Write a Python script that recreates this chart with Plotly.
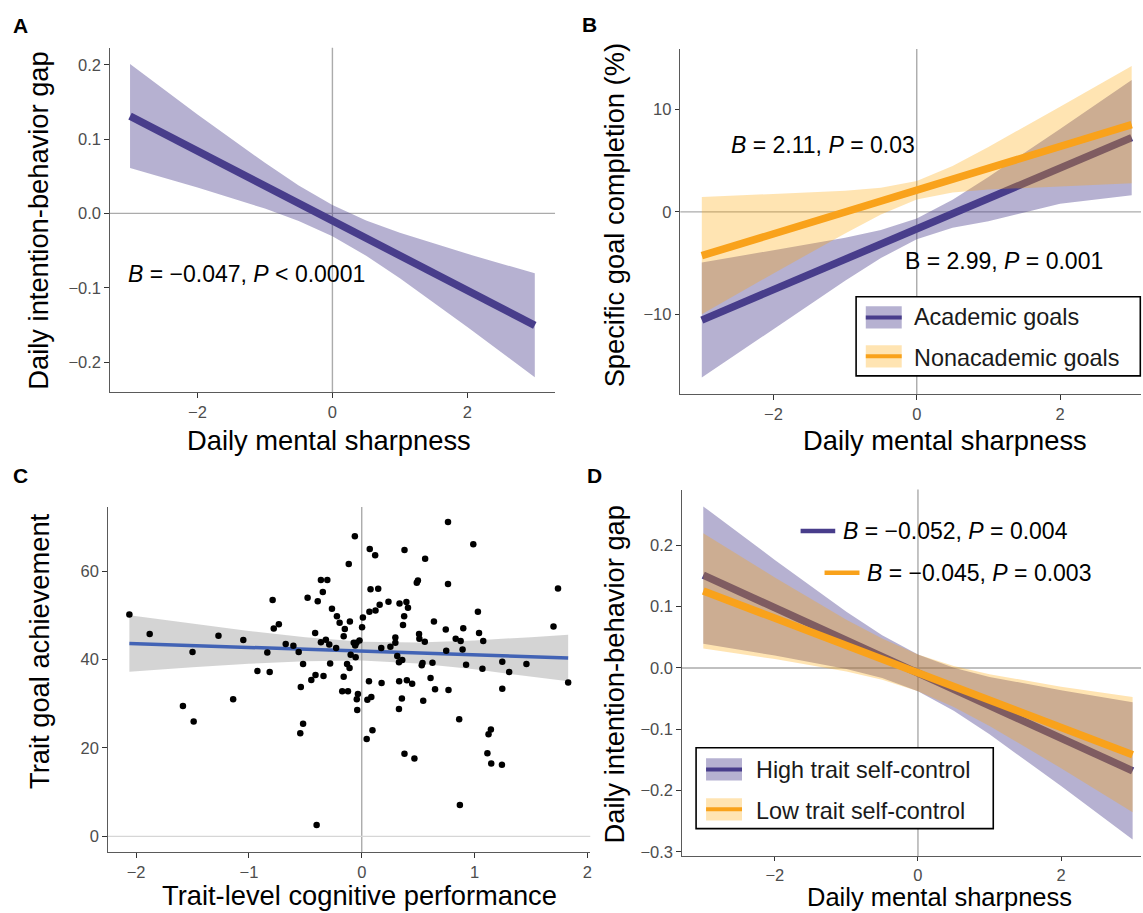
import plotly.graph_objects as go

W, H = 1143, 913
FONT = "Liberation Sans, Arial, Helvetica, sans-serif"
PURPLE = "#483D8B"
PURPLE_BAND = "rgba(72,61,139,0.4)"
ORANGE = "#F9A21B"
ORANGE_BAND = "rgba(255,165,0,0.3)"

# ---------------- Panel A ----------------
a_x = [-3, -2, -1, -0.5, 0, 0.5, 1, 2, 3]
a_fit = [0.1309, 0.0840, 0.0371, 0.0137, -0.0098, -0.0333, -0.0567, -0.1036, -0.1505]
a_hi = [0.201, 0.133, 0.068, 0.0375, 0.0112, -0.0095, -0.0261, -0.0544, -0.0805]
a_lo = [0.061, 0.035, 0.0065, -0.0101, -0.0308, -0.0571, -0.0873, -0.1528, -0.2205]

# ---------------- Panel B ----------------
b_x = [-3, -2, -1, -0.5, 0, 0.5, 1, 2, 3]
b_acad_fit = [-10.53, -7.57, -4.61, -3.13, -1.65, -0.17, 1.31, 4.27, 7.23]
b_acad_hi = [-4.93, -3.76, -2.52, -1.77, -0.65, 1.19, 3.40, 8.08, 12.83]
b_acad_lo = [-16.13, -11.38, -6.70, -4.49, -2.65, -1.53, -0.90, 0.80, 1.63]
b_non_fit = [-4.26, -2.13, -0.01, 1.06, 2.12, 3.18, 4.25, 6.37, 8.50]
b_non_hi = [1.44, 1.73, 2.07, 2.36, 3.02, 4.48, 6.33, 10.23, 14.20]
b_non_lo = [-9.96, -5.99, -2.09, -0.24, 1.22, 1.88, 2.17, 2.51, 2.80]

# ---------------- Panel C ----------------
c_x = [-2.06, -1.88, -1.50, -1.585, -1.49, -1.27, -1.14, -1.05, -0.925, -0.816,
       -0.837, -0.79, -0.78, -0.735, -0.674, -0.606, -0.559, -0.54, -0.52, -0.52,
       -0.545, -0.48, -0.447, -0.413, -0.41, -0.40, -0.39, -0.362, -0.345, -0.362,
       -0.339, -0.318, -0.305, -0.288, -0.28, -0.264, -0.227, -0.22, -0.196, -0.173,
       -0.16, -0.16, -0.15, -0.13, -0.122, -0.115, -0.108, -0.105, -0.098, -0.071,
       -0.061, -0.054, -0.058, -0.047, -0.044, -0.04, -0.034, -0.02, 0.003, 0.01,
       0.044, 0.05, 0.064, 0.071, 0.068, 0.078, 0.085, 0.095, 0.119, 0.122,
       0.146, 0.159, 0.173, 0.176, 0.237, 0.254, 0.298, 0.298, 0.315, 0.33,
       0.33, 0.332, 0.335, 0.356, 0.359, 0.366, 0.376, 0.379, 0.379, 0.396,
       0.40, 0.41, 0.447, 0.467, 0.488, 0.498, 0.508, 0.511, 0.532, 0.539,
       0.545, 0.559, 0.562, 0.61, 0.627, 0.64, 0.65, 0.745, 0.749, 0.765,
       0.765, 0.769, 0.833, 0.864, 0.87, 0.877, 0.894, 0.90, 0.925, 0.989,
       1.03, 1.04, 1.07, 1.077, 1.114, 1.124, 1.145, 1.148, 1.243, 1.246,
       1.246, 1.307, 1.46, 1.70, 1.74, 1.83]
c_y = [50.2, 45.8, 41.7, 29.5, 26.0, 45.4, 31.0, 44.4, 37.4, 37.2,
       41.6, 53.5, 47.0, 48.0, 43.5, 43.1, 41.7, 33.8, 39.0, 25.5,
       23.3, 54.0, 35.4, 46.0, 36.5, 2.55, 53.2, 58.0, 55.3, 43.9,
       36.3, 44.5, 58.0, 43.4, 39.1, 51.5, 42.6, 49.8, 48.3, 32.8,
       36.1, 45.3, 46.9, 39.0, 32.8, 61.6, 38.1, 48.6, 41.1, 43.8,
       67.9, 40.5, 43.2, 43.8, 31.0, 28.6, 32.2, 44.3, 47.3, 49.5,
       22.0, 30.9, 35.1, 65.0, 50.8, 55.9, 31.5, 24.0, 63.6, 51.1,
       56.0, 52.4, 42.6, 34.7, 53.1, 42.9, 45.0, 43.8, 40.8, 28.8,
       39.4, 35.1, 52.7, 31.2, 39.9, 47.8, 49.8, 64.8, 18.7, 53.0,
       35.3, 51.7, 34.5, 17.6, 57.4, 57.9, 45.8, 44.7, 38.7, 39.2,
       30.7, 44.0, 62.8, 35.8, 39.3, 48.6, 33.3, 46.8, 42.0, 71.1,
       57.1, 33.1, 44.7, 26.5, 7.1, 44.2, 42.3, 47.1, 38.8, 66.1,
       50.8, 46.0, 37.9, 44.2, 18.8, 23.1, 24.2, 16.5, 16.2, 39.5,
       33.4, 37.2, 39.0, 47.5, 56.1, 34.8]
c_fx = [-2.06, -1.5, -1.0, -0.5, 0.0, 0.5, 1.0, 1.5, 1.83]
c_fit = [43.65, 43.18, 42.75, 42.33, 41.90, 41.48, 41.05, 40.63, 40.34]
c_hi = [50.05, 48.12, 46.47, 45.02, 44.02, 43.86, 44.32, 45.07, 45.61]
c_lo = [37.25, 38.24, 39.03, 39.64, 39.78, 39.10, 37.78, 36.19, 35.07]

# ---------------- Panel D ----------------
d_x = [-3, -2, -1, -0.5, 0, 0.5, 1, 2, 3]
d_high_fit = [0.1515, 0.0983, 0.0451, 0.0185, -0.0081, -0.0347, -0.0613, -0.1145, -0.1677]
d_high_hi = [0.2635, 0.1763, 0.0919, 0.0535, 0.0219, 0.0003, -0.0145, -0.0365, -0.0557]
d_high_lo = [0.0395, 0.0203, -0.0017, -0.0165, -0.0381, -0.0697, -0.1081, -0.1925, -0.2797]
d_low_fit = [0.1256, 0.0811, 0.0366, 0.0144, -0.0079, -0.0302, -0.0524, -0.0969, -0.1414]
d_low_hi = [0.2196, 0.1476, 0.0788, 0.0479, 0.0221, 0.0033, -0.0102, -0.0304, -0.0474]
d_low_lo = [0.0316, 0.0146, -0.0056, -0.0191, -0.0379, -0.0637, -0.0946, -0.1634, -0.2354]


def px(v):
    return v / W


def py(v):
    return 1 - v / H


fig = go.Figure()


def band(xs, lo, hi, color, ax):
    fig.add_trace(go.Scatter(x=list(xs) + list(xs)[::-1], y=list(hi) + list(lo)[::-1],
                             fill="toself", fillcolor=color, line=dict(width=0),
                             mode="lines", hoverinfo="skip", showlegend=False,
                             xaxis="x" + ax, yaxis="y" + ax))


def line(xs, ys, color, width, ax):
    fig.add_trace(go.Scatter(x=xs, y=ys, mode="lines", line=dict(color=color, width=width),
                             showlegend=False, xaxis="x" + ax, yaxis="y" + ax))


# A
band(a_x, a_lo, a_hi, PURPLE_BAND, "")
line(a_x, a_fit, PURPLE, 7.5, "")
# B
band(b_x, b_acad_lo, b_acad_hi, PURPLE_BAND, "2")
line(b_x, b_acad_fit, PURPLE, 7.5, "2")
band(b_x, b_non_lo, b_non_hi, ORANGE_BAND, "2")
line(b_x, b_non_fit, ORANGE, 7.5, "2")
# C
band(c_fx, c_lo, c_hi, "rgba(153,153,153,0.42)", "3")
line(c_fx, c_fit, "#4263B5", 3.5, "3")
fig.add_trace(go.Scatter(x=c_x, y=c_y, mode="markers", marker=dict(color="black", size=6.5),
                         showlegend=False, xaxis="x3", yaxis="y3"))
# D
band(d_x, d_high_lo, d_high_hi, PURPLE_BAND, "4")
line(d_x, d_high_fit, PURPLE, 7.5, "4")
band(d_x, d_low_lo, d_low_hi, ORANGE_BAND, "4")
line(d_x, d_low_fit, ORANGE, 7.5, "4")

axis_common = dict(showline=True, linecolor="#5a5a5a", linewidth=1.1, ticks="outside",
                   tickwidth=1.1, tickcolor="#333333", showgrid=False,
                   zeroline=False, tickfont=dict(family=FONT, size=16.5, color="#4D4D4D"),
                   fixedrange=True)

fig.update_layout(
    width=W, height=H, margin=dict(l=0, r=0, t=0, b=0),
    paper_bgcolor="white", plot_bgcolor="white", showlegend=False,
    font=dict(family=FONT),
    xaxis=dict(domain=[px(110), px(556)], range=[-3.3, 3.3], anchor="y", ticklen=4.5,
               tickvals=[-2, 0, 2], ticktext=["−2", "0", "2"], **axis_common),
    yaxis=dict(domain=[py(394), py(48)], range=[-0.2406, 0.2228], anchor="x", ticklen=4.5,
               tickvals=[-0.2, -0.1, 0, 0.1, 0.2],
               ticktext=["−0.2", "−0.1", "0.0", "0.1", "0.2"], **axis_common),
    xaxis2=dict(domain=[px(681.5), 1.0], range=[-3.3, 3.13], anchor="y2", ticklen=4.5,
                tickvals=[-2, 0, 2], ticktext=["−2", "0", "2"], **axis_common),
    yaxis2=dict(domain=[py(396), py(49.3)], range=[-17.75, 15.85], anchor="x2", ticklen=4.5,
                tickvals=[-10, 0, 10], ticktext=["−10", "0", "10"], **axis_common),
    xaxis3=dict(domain=[px(107.9), px(591.3)], range=[-2.252, 2.026], anchor="y3", ticklen=4.5,
                tickvals=[-2, -1, 0, 1, 2], ticktext=["−2", "−1", "0", "1", "2"], **axis_common),
    yaxis3=dict(domain=[py(856), py(509.3)], range=[-3.6, 74.5], anchor="x3", ticklen=4.5,
                tickvals=[0, 20, 40, 60], ticktext=["0", "20", "40", "60"], **axis_common),
    xaxis4=dict(domain=[px(683), 1.0], range=[-3.3, 3.117], anchor="y4", ticklen=3.5,
                tickvals=[-2, 0, 2], ticktext=["−2", "0", "2"], **axis_common),
    yaxis4=dict(domain=[py(860), py(491.7)], range=[-0.307, 0.291], anchor="x4", ticklen=4.5,
                tickvals=[-0.3, -0.2, -0.1, 0, 0.1, 0.2],
                ticktext=["−0.3", "−0.2", "−0.1", "0.0", "0.1", "0.2"], **axis_common),
)

shapes = []
REF = "#ABABAB"
for ax, hcol in [("", REF), ("2", REF), ("3", "#D6D6D6"), ("4", REF)]:
    shapes.append(dict(type="line", xref="x" + ax, yref="y" + ax + " domain", x0=0, x1=0, y0=0, y1=1,
                       line=dict(color=REF, width=1.4), layer="below"))
    shapes.append(dict(type="line", xref="x" + ax + " domain", yref="y" + ax, x0=0, x1=1, y0=0, y1=0,
                       line=dict(color=hcol, width=1.4), layer="below"))


def rect(x0, y0, x1, y1, fill, linecol=None, lw=0):
    shapes.append(dict(type="rect", xref="paper", yref="paper", x0=px(x0), x1=px(x1),
                       y0=py(y1), y1=py(y0), fillcolor=fill,
                       line=dict(color=linecol if linecol else "rgba(0,0,0,0)", width=lw),
                       layer="above"))


def seg(x0, x1, y, color, w):
    shapes.append(dict(type="line", xref="paper", yref="paper", x0=px(x0), x1=px(x1),
                       y0=py(y), y1=py(y), line=dict(color=color, width=w), layer="above"))


# Legend B
rect(857.6, 298, 1142.3, 377.5, "white", "black", 1.6)
rect(867.3, 307.7, 903.3, 330, PURPLE_BAND)
seg(867.3, 903.3, 318.8, PURPLE, 4)
rect(867.3, 346.7, 903.3, 369, ORANGE_BAND)
seg(867.3, 903.3, 357.8, ORANGE, 4)
# Legend D
rect(697.3, 751, 995, 832.3, "white", "black", 1.6)
rect(707.3, 761.7, 743.3, 784, PURPLE_BAND)
seg(707.3, 743.3, 772.8, PURPLE, 4)
rect(707.3, 801.7, 743.3, 824, ORANGE_BAND)
seg(707.3, 743.3, 812.8, ORANGE, 4)
# D annotation keys
seg(802, 836.7, 533.3, PURPLE, 4.5)
seg(826, 861, 575.3, ORANGE, 4.5)

fig.update_layout(shapes=shapes)

ann = []


def text(x, y, s, size, xanchor="left", angle=0, color="black"):
    ann.append(dict(x=px(x), y=py(y), xref="paper", yref="paper", text=s, showarrow=False,
                    xanchor=xanchor, yanchor="middle", textangle=angle,
                    font=dict(family=FONT, size=size, color=color)))


# Panel letters
for lx, ly, lt in [(11, 25.5, "A"), (581, 24.5, "B"), (10.7, 478, "C"), (586, 478, "D")]:
    text(lx, ly, "<b>" + lt + "</b>", 21)

# Axis titles
TS = 27.3
text(39, 221.7, "Daily intention-behavior gap", TS, "center", -90)
text(330, 442, "Daily mental sharpness", TS, "center")
text(615.7, 216.7, "Specific goal completion (%)", TS, "center", -90)
text(946.5, 442, "Daily mental sharpness", TS, "center")
text(38.9, 654, "Trait goal achievement", TS, "center", -90)
text(360, 899, "Trait-level cognitive performance", TS, "center")
text(616, 677.5, "Daily intention-behavior gap", TS, "center", -90)
text(941.4, 901, "Daily mental sharpness", 25.5, "center")

# Stat annotations
AS = 23
text(126, 275, "<i>B</i> = −0.047, <i>P</i> &lt; 0.0001", AS)
text(730, 145.7, "<i>B</i> = 2.11, <i>P</i> = 0.03", AS)
text(904.5, 261.7, "B = 2.99, <i>P</i> = 0.001", AS)
text(842.5, 533.3, "<i>B</i> = −0.052, <i>P</i> = 0.004", AS)
text(866.5, 575.3, "<i>B</i> = −0.045, <i>P</i> = 0.003", AS)

# Legend texts
LS = 23.4
text(914, 318.3, "Academic goals", LS, color="#1a1a1a")
text(914, 359.5, "Nonacademic goals", LS, color="#1a1a1a")
text(755, 773.3, "High trait self-control", LS, color="#1a1a1a")
text(755, 814.5, "Low trait self-control", LS, color="#1a1a1a")

fig.update_layout(annotations=ann)

fig.write_html("out.html")
